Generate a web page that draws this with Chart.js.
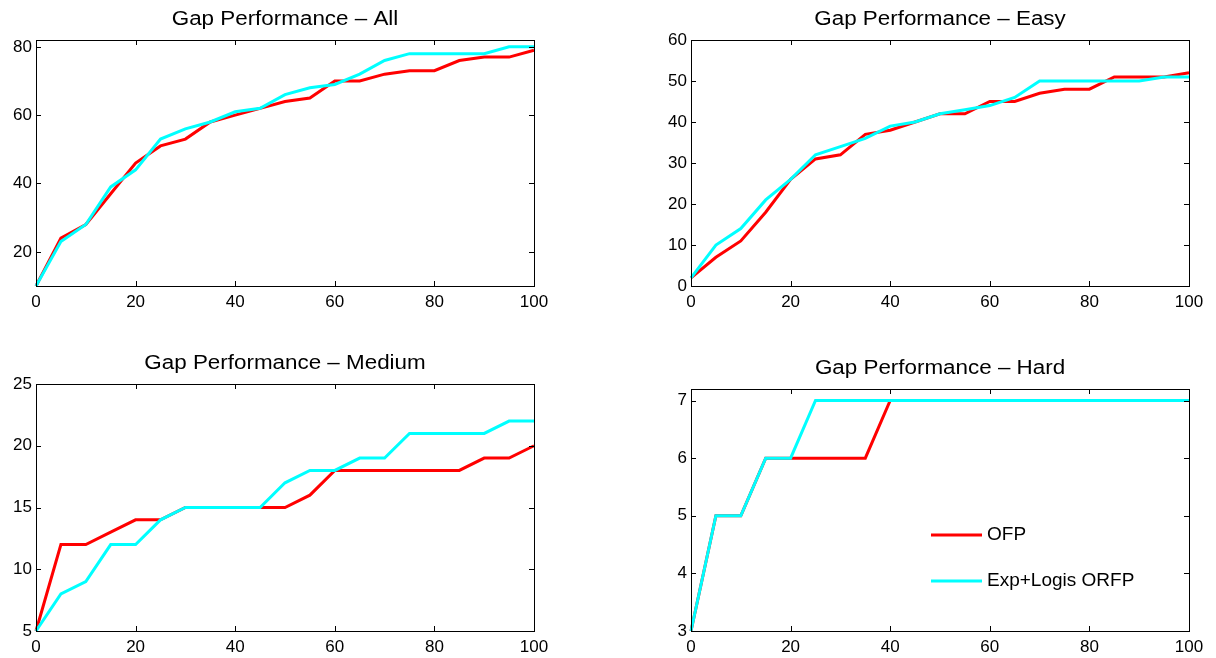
<!DOCTYPE html>
<html>
<head>
<meta charset="utf-8">
<script src="https://cdn.jsdelivr.net/npm/chart.js@4.4.1/dist/chart.umd.min.js"></script>
<style>
  html, body { margin: 0; padding: 0; background: #fff; }
  body { width: 1216px; height: 658px; position: relative; overflow: hidden; }
  canvas { position: absolute; }
</style>
</head>
<body>
<canvas id="cAll"></canvas>
<canvas id="cEasy"></canvas>
<canvas id="cMedium"></canvas>
<canvas id="cHard"></canvas>
<script>
// gap percentage on the x axis
const xValues = [0, 5, 10, 15, 20, 25, 30, 35, 40, 45, 50, 55, 60, 65, 70, 75, 80, 85, 90, 95, 100];
const xTicks = [0, 20, 40, 60, 80, 100];

const seriesNames = ['OFP', 'Exp+Logis ORFP'];

const allOFP = [10, 24, 28, 37, 46, 51, 53, 58, 60, 62, 64, 65, 70, 70, 72, 73, 73, 76, 77, 77, 79];
const allORFP = [10, 23, 28, 39, 44, 53, 56, 58, 61, 62, 66, 68, 69, 72, 76, 78, 78, 78, 78, 80, 80];
const allTicks = [20, 40, 60, 80];

const easyOFP = [2, 7, 11, 18, 26, 31, 32, 37, 38, 40, 42, 42, 45, 45, 47, 48, 48, 51, 51, 51, 52];
const easyORFP = [2, 10, 14, 21, 26, 32, 34, 36, 39, 40, 42, 43, 44, 46, 50, 50, 50, 50, 50, 51, 51];
const easyTicks = [0, 10, 20, 30, 40, 50, 60];

const mediumOFP = [5, 12, 12, 13, 14, 14, 15, 15, 15, 15, 15, 16, 18, 18, 18, 18, 18, 18, 19, 19, 20];
const mediumORFP = [5, 8, 9, 12, 12, 14, 15, 15, 15, 15, 17, 18, 18, 19, 19, 21, 21, 21, 21, 22, 22];
const mediumTicks = [5, 10, 15, 20, 25];

const hardOFP = [3, 5, 5, 6, 6, 6, 6, 6, 7, 7, 7, 7, 7, 7, 7, 7, 7, 7, 7, 7, 7];
const hardORFP = [3, 5, 5, 6, 6, 7, 7, 7, 7, 7, 7, 7, 7, 7, 7, 7, 7, 7, 7, 7, 7];
const hardTicks = [3, 4, 5, 6, 7];

const FONT = "'Liberation Sans', Arial, Helvetica, sans-serif";
const RED = '#ff0000';
const CYAN = '#00ffff';

// matlab style axes: closed box, ticks pointing inwards, title above
const boxPlugin = {
  id: 'boxAxes',
  afterDatasetsDraw(chart, args, opts) {
    const ctx = chart.ctx;
    const a = chart.chartArea;
    const xs = chart.scales.x, ys = chart.scales.y;
    const tl = 5;
    ctx.save();
    ctx.strokeStyle = '#000';
    ctx.lineWidth = 1;
    ctx.beginPath();
    xTicks.forEach(v => {
      const px = Math.round(xs.getPixelForValue(v)) + 0.5;
      ctx.moveTo(px, a.bottom); ctx.lineTo(px, a.bottom - tl);
      ctx.moveTo(px, a.top); ctx.lineTo(px, a.top + tl);
    });
    opts.yTicks.forEach(v => {
      const py = Math.round(ys.getPixelForValue(v)) + 0.5;
      ctx.moveTo(a.left, py); ctx.lineTo(a.left + tl, py);
      ctx.moveTo(a.right, py); ctx.lineTo(a.right - tl, py);
    });
    ctx.stroke();
    ctx.strokeRect(Math.round(a.left) + 0.5, Math.round(a.top) + 0.5,
      Math.round(a.right - a.left), Math.round(a.bottom - a.top));

    // title, slightly widened like the original figure font
    ctx.fillStyle = '#000';
    ctx.font = '20px ' + FONT;
    ctx.textAlign = 'center';
    ctx.textBaseline = 'alphabetic';
    ctx.save();
    ctx.translate((a.left + a.right) / 2, a.top - 15);
    ctx.scale(1.12, 1);
    ctx.fillText(opts.title, 0, 0);
    ctx.restore();

    if (opts.legend) {
      const lx = a.left + 240, ly = a.top + 146;
      chart.data.datasets.slice().sort((p, q) => p.legendIndex - q.legendIndex).forEach((ds, i) => {
        const y = ly + i * 46;
        ctx.strokeStyle = ds.borderColor;
        ctx.lineWidth = 3;
        ctx.beginPath();
        ctx.moveTo(lx, y); ctx.lineTo(lx + 51, y);
        ctx.stroke();
        ctx.font = '19px ' + FONT;
        ctx.textAlign = 'left';
        ctx.textBaseline = 'middle';
        ctx.fillText(ds.label, lx + 56, y);
      });
    }
    ctx.restore();
  }
};

function makePanel(id, title, ofp, orfp, yMin, yMax, yTicks, rect, legend) {
  const canvas = document.getElementById(id);
  const w = 36 + rect.w + 26, h = 40 + rect.h + 34;
  canvas.width = w; canvas.height = h;
  canvas.style.left = (rect.x - 36) + 'px';
  canvas.style.top = (rect.y - 40) + 'px';

  const pts = vals => xValues.map((x, i) => ({ x: x, y: vals[i] }));
  return new Chart(canvas, {
    type: 'line',
    data: {
      datasets: [
        { label: seriesNames[0], data: pts(ofp), borderColor: RED, legendIndex: 0, order: 1 },
        { label: seriesNames[1], data: pts(orfp), borderColor: CYAN, legendIndex: 1, order: 0 }
      ]
    },
    options: {
      responsive: false,
      animation: false,
      layout: { padding: { top: 40, right: 26, left: 0, bottom: 0 } },
      elements: {
        line: { borderWidth: 3, tension: 0, fill: false },
        point: { radius: 0, hoverRadius: 0 }
      },
      datasets: { line: { clip: false } },
      scales: {
        x: {
          type: 'linear', min: 0, max: 100,
          grid: { display: false, drawTicks: false },
          border: { display: false },
          afterBuildTicks: s => { s.ticks = xTicks.map(v => ({ value: v })); },
          afterFit: s => { s.height = 34; },
          ticks: { color: '#000', font: { family: FONT, size: 17 }, padding: 6, maxRotation: 0 }
        },
        y: {
          type: 'linear', min: yMin, max: yMax,
          grid: { display: false, drawTicks: false },
          border: { display: false },
          afterBuildTicks: s => { s.ticks = yTicks.map(v => ({ value: v })); },
          afterFit: s => { s.width = 36; },
          ticks: { color: '#000', font: { family: FONT, size: 17 }, padding: 4 }
        }
      },
      plugins: {
        legend: { display: false },
        title: { display: false },
        tooltip: { enabled: false },
        boxAxes: { title: title, yTicks: yTicks, legend: legend }
      }
    },
    plugins: [boxPlugin]
  });
}

makePanel('cAll', 'Gap Performance \u2013 All', allOFP, allORFP, 10, 82, allTicks,
  { x: 36, y: 40, w: 498, h: 246 }, false);
makePanel('cEasy', 'Gap Performance \u2013 Easy', easyOFP, easyORFP, 0, 60, easyTicks,
  { x: 691, y: 40, w: 498, h: 246 }, false);
makePanel('cMedium', 'Gap Performance \u2013 Medium', mediumOFP, mediumORFP, 5, 25, mediumTicks,
  { x: 36, y: 384, w: 498, h: 247 }, false);
makePanel('cHard', 'Gap Performance \u2013 Hard', hardOFP, hardORFP, 3, 7.2, hardTicks,
  { x: 691, y: 389, w: 498, h: 242 }, true);
</script>
</body>
</html>
